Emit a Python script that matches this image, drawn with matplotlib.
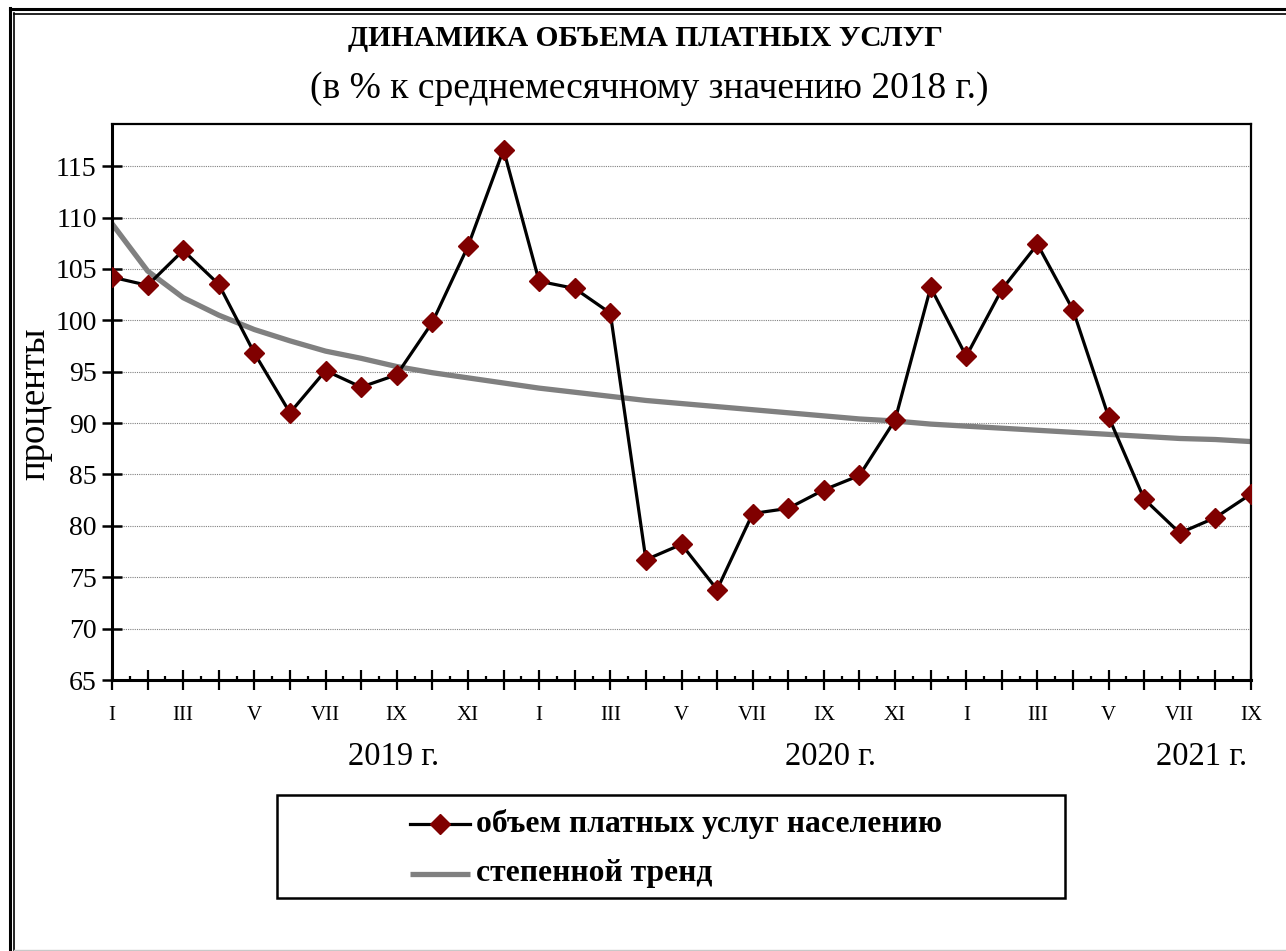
import matplotlib
matplotlib.use("Agg")
import matplotlib.pyplot as plt
import matplotlib.transforms as mtransforms
from matplotlib.patches import Rectangle
from matplotlib.lines import Line2D

plt.rcParams['font.family'] = ['Liberation Serif', 'DejaVu Serif']

# ---- data ----
month_labels = ["I", "", "III", "", "V", "", "VII", "", "IX", "", "XI", "",
                "I", "", "III", "", "V", "", "VII", "", "IX", "", "XI", "",
                "I", "", "III", "", "V", "", "VII", "", "IX"]
years = ["2019 г.", "2020 г.", "2021 г."]
year_label_pos = [7.9, 20.2, 30.6]

services = [104.2, 103.4, 106.8, 103.5, 96.8, 91.0, 95.1, 93.5, 94.7, 99.8, 107.2, 116.6,
            103.8, 103.1, 100.7, 76.7, 78.2, 73.8, 81.2, 81.7, 83.5, 84.9, 90.3, 103.2,
            96.5, 103.0, 107.4, 101.0, 90.6, 82.6, 79.3, 80.8, 83.1]
trend = [109.4, 104.8, 102.2, 100.5, 99.1, 98.0, 97.0, 96.3, 95.5, 94.9, 94.4, 93.9,
         93.4, 93.0, 92.6, 92.2, 91.9, 91.6, 91.3, 91.0, 90.7, 90.4, 90.2, 89.9,
         89.7, 89.5, 89.3, 89.1, 88.9, 88.7, 88.5, 88.4, 88.2]
yticks = [65, 70, 75, 80, 85, 90, 95, 100, 105, 110, 115]

title = "ДИНАМИКА ОБЪЕМА ПЛАТНЫХ УСЛУГ"
subtitle = "(в % к среднемесячному значению 2018 г.)"
ylabel = "проценты"
legend_labels = ["объем платных услуг населению", "степенной тренд"]

LINE_C = 'black'
MARK_C = '#800000'
TREND_C = '#808080'

# ---- figure ----
W, H = 1286, 951
fig = plt.figure(figsize=(W / 100, H / 100), dpi=100)

def fx(px):
    return px / W

def fy(py):
    return 1 - py / H

# outer double frame
fig.add_artist(Line2D([fx(9.5), fx(9.5)], [fy(8), fy(951)], color='black', lw=2.2, transform=fig.transFigure))
fig.add_artist(Line2D([fx(9.5), fx(1286)], [fy(8.5), fy(8.5)], color='black', lw=2.2, transform=fig.transFigure))
fig.add_artist(Line2D([fx(14), fx(14)], [fy(13), fy(951)], color='black', lw=1.2, transform=fig.transFigure))
fig.add_artist(Line2D([fx(14), fx(1286)], [fy(13.5), fy(13.5)], color='black', lw=1.2, transform=fig.transFigure))
fig.add_artist(Line2D([fx(14), fx(1286)], [fy(949.5), fy(949.5)], color='#c8c8c8', lw=1.0, transform=fig.transFigure))

ax = fig.add_axes([fx(112), fy(680), fx(1251) - fx(112), fy(124) - fy(680)])

x = list(range(len(services)))

ax.plot(x, trend, color=TREND_C, lw=3.8, solid_capstyle='butt', zorder=2)
ax.plot(x, services, color=LINE_C, lw=2.3, marker='D', markersize=10.5,
        markerfacecolor=MARK_C, markeredgecolor=MARK_C, zorder=3)

ax.set_xlim(0, len(services) - 1)
ax.set_ylim(65, 119.1)
ax.set_yticks(yticks)
ax.set_yticklabels([str(v) for v in yticks])
ax.yaxis.grid(True, color='#808080', lw=0.8, ls=(0, (1, 1)))
ax.set_axisbelow(True)

ax.set_xticks(x)
ax.set_xticklabels(month_labels)
ax.set_xticks([i + 0.5 for i in x[:-1]], minor=True)

ax.tick_params(axis='y', direction='inout', length=14, width=1.8, labelsize=20, pad=4)
ax.tick_params(axis='x', which='major', direction='inout', length=14, width=1.6, labelsize=15, pad=12)
ax.tick_params(axis='x', which='minor', direction='in', length=3, width=1.6)

for s in ['left', 'bottom']:
    ax.spines[s].set_linewidth(2.2)
for s in ['top', 'right']:
    ax.spines[s].set_linewidth(1.6)

ax.set_ylabel(ylabel, fontsize=26.5)
ax.yaxis.set_label_coords(-0.052, 0.497)

trans = mtransforms.blended_transform_factory(ax.transData, fig.transFigure)
for lbl, pos in zip(years, year_label_pos):
    ax.text(pos, fy(757), lbl, transform=trans, ha='center', va='center', fontsize=23.5)

fig.text(fx(645.5), fy(39), title, ha='center', va='center', fontsize=21.2, fontweight='bold')
fig.text(fx(649), fy(89), subtitle, ha='center', va='center', fontsize=27)

# legend (box + samples + labels)
fig.add_artist(Rectangle((fx(277), fy(898)), fx(1065) - fx(277), fy(795) - fy(898),
                         transform=fig.transFigure, fill=False, edgecolor='black', lw=1.8))
rows_y = [824, 874]
fig.add_artist(Line2D([fx(410), fx(470)], [fy(rows_y[0])] * 2, color=LINE_C, lw=2.3,
                      transform=fig.transFigure))
fig.add_artist(Line2D([fx(440)], [fy(rows_y[0])], color=LINE_C, marker='D', markersize=10.5,
                      markerfacecolor=MARK_C, markeredgecolor=MARK_C, transform=fig.transFigure))
fig.add_artist(Line2D([fx(410), fx(470)], [fy(rows_y[1])] * 2, color=TREND_C, lw=3.8,
                      solid_capstyle='butt', transform=fig.transFigure))
for lbl, ry in zip(legend_labels, rows_y):
    fig.text(fx(476), fy(ry), lbl, ha='left', va='center', fontsize=22.8, fontweight='bold')

fig.savefig("out.png", dpi=100)
